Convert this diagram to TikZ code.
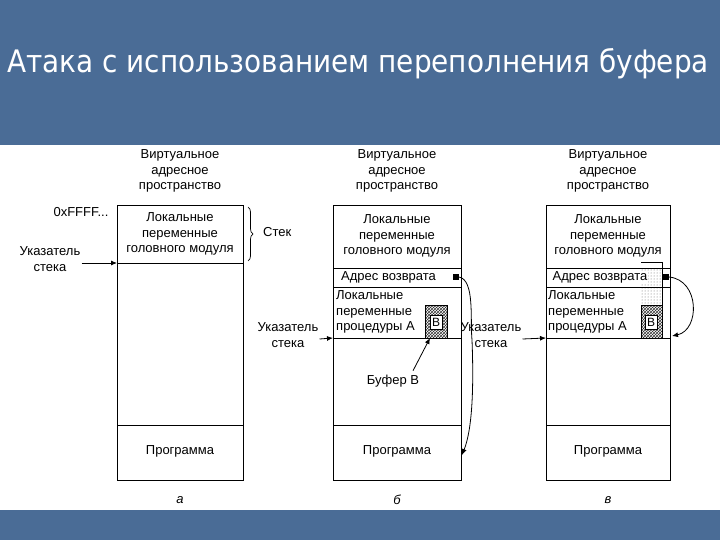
\documentclass[tikz,border=0pt]{standalone}
\usepackage{fontspec}
\setmainfont{Liberation Sans}
\newfontfamily\titlefont{DejaVu Sans Condensed}
\usetikzlibrary{patterns,decorations.pathreplacing,arrows.meta}
\definecolor{bar}{RGB}{74,108,150}
\tikzset{
  col/.style={draw,line width=0.9pt},
  lbl/.style={font=\fontsize{13}{15.5}\selectfont,align=center,inner sep=1pt},
  arr/.style={-{Latex[length=6pt,width=5pt]},line width=0.8pt},
  hatch/.style={draw,line width=0.6pt,pattern=crosshatch,pattern color=black!80},
  bbox/.style={draw,fill=white,inner sep=1pt,minimum width=12pt,minimum height=14pt,font=\fontsize{12}{12}\selectfont},
}
\begin{document}
\begin{tikzpicture}[x=1pt,y=-1pt]
\useasboundingbox (0,0) rectangle (720,540);
\fill[bar] (0,0) rectangle (720,145);
\fill[bar] (0,510) rectangle (720,540);
\node[anchor=west,text=white,font=\titlefont\fontsize{31}{33}\selectfont] (title) at (4,64) {Атака с использованием переполнения буфера};
\foreach \n/\x in {a/180,b/397,c/608}{
  \node[lbl] (v\n) at (\x,171) {Виртуальное\\адресное\\пространство};
}
% column a
\draw[col] (117,205) rectangle (243,480);
\draw[col] (117,263) -- (243,263);
\draw[col] (117,425) -- (243,425);
\node[lbl] (lma) at (180,234) {Локальные\\переменные\\головного модуля};
\node[lbl] (pra) at (180,451) {Программа};
\node[lbl] (ff) at (81,212) {0xFFFF...};
\node[lbl] (ua) at (50,259) {Указатель\\стека};
\coordinate (uaT) at (117,263);
\draw[arr] (ua.east) ++(0,4) -- (uaT);
\draw[decorate,decoration={brace,amplitude=5pt},line width=0.7pt] (248,207) -- (248,261);
\node[lbl,anchor=west] (stek) at (262,232) {Стек};
\node[lbl] (la) at (180,500) {\itshape а};
% column b
\draw[col] (333,205) rectangle (461,480);
\foreach \y in {268,287,338,425} \draw[col] (333,\y) -- (461,\y);
\node[lbl] (lmb) at (397,236) {Локальные\\переменные\\головного модуля};
\node[lbl,anchor=west] (adb) at (340,277) {Адрес возврата};
\node[lbl,anchor=west,align=left] (lpb) at (335,312) {Локальные\\переменные\\процедуры А};
\draw[hatch] (425,305) rectangle (447,338);
\node[bbox] (bb) at (436,322) {B};
\node[lbl] (prb) at (397,451) {Программа};
\node[lbl] (ub) at (288,335) {Указатель\\стека};
\coordinate (ubT) at (333,338);
\draw[arr] (ub.east) ++(0,4) -- (ubT);
\node[lbl] (bufb) at (393,381) {Буфер В};
\coordinate (bufT) at (430,338);
\draw[arr] (bufb.north) ++(20,-3) -- (bufT);
\fill (453,274) rectangle (459,280);
\coordinate (sb) at (459,277);
\coordinate (pb) at (462,455);
\draw[arr] (sb) .. controls (475,280) and (470,320) .. (472,340) .. controls (474,390) and (472,430) .. (pb);
\node[lbl] (lb) at (397,500) {\itshape б};
% between
\node[lbl] (uc) at (491,335) {Указатель\\стека};
\coordinate (ucT) at (546,338);
\draw[arr] (uc.east) ++(0,4) -- (ucT);
% column c
\draw[col] (546,205) rectangle (670,480);
\fill[pattern=dots,pattern color=black!60] (641,268) rectangle (662,305);
\foreach \y in {268,287,338,425} \draw[col] (546,\y) -- (670,\y);
\draw[line width=0.6pt] (641,262) -- (662,262) -- (662,305);
\draw[hatch] (641,305) rectangle (662,338);
\node[bbox] (bc) at (651,322) {B};
\node[lbl] (lmc) at (608,236) {Локальные\\переменные\\головного модуля};
\node[lbl,anchor=west,fill=white,inner sep=0.5pt] (adc) at (552,277) {Адрес возврата};
\node[lbl,anchor=west,align=left] (lpc) at (547,312) {Локальные\\переменные\\процедуры А};
\node[lbl] (prc) at (608,451) {Программа};
\fill (663,274) rectangle (669,280);
\coordinate (sc) at (669,277);
\coordinate (pc) at (672,336);
\draw[arr] (sc) .. controls (700,280) and (700,330) .. (pc);
\node[lbl] (lc) at (608,500) {\itshape в};
\end{tikzpicture}
\end{document}
